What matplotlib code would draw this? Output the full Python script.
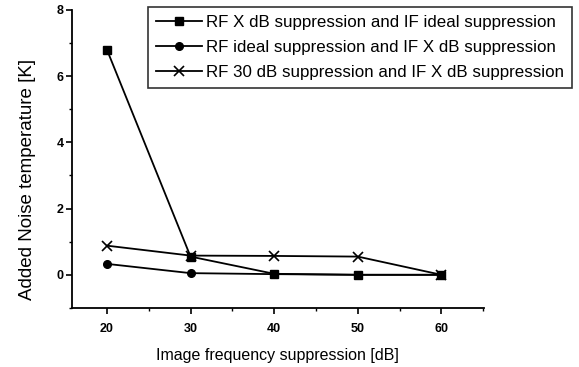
import matplotlib
matplotlib.use("Agg")
import matplotlib.pyplot as plt
from matplotlib.ticker import MultipleLocator

plt.rcParams['font.family'] = ['Liberation Sans', 'DejaVu Sans']

x = [20, 30, 40, 50, 60]
rf_x_if_ideal = [6.8, 0.55, 0.03, 0.0, 0.0]
rf_ideal_if_x = [0.33, 0.05, 0.02, 0.0, 0.0]
rf30_if_x = [0.88, 0.58, 0.57, 0.55, 0.0]
labels = ["RF X dB suppression and IF ideal suppression",
          "RF ideal suppression and IF X dB suppression",
          "RF 30 dB suppression and IF X dB suppression"]

fig = plt.figure(figsize=(5.79, 3.67), dpi=100)
ax = fig.add_axes([0.124, 0.161, 0.712, 0.812])
ax.plot(x, rf_x_if_ideal, color='black', lw=1.3, marker='s', ms=5.5, label=labels[0])
ax.plot(x, rf_ideal_if_x, color='black', lw=1.3, marker='o', ms=5.5, label=labels[1])
ax.plot(x, rf30_if_x, color='black', lw=1.3, marker='x', ms=7, mew=1.2, label=labels[2])

ax.set_xlim(15.8, 65.1)
ax.set_ylim(-1, 8)
ax.xaxis.set_major_locator(MultipleLocator(10))
ax.xaxis.set_minor_locator(MultipleLocator(5))
ax.yaxis.set_major_locator(MultipleLocator(2))
ax.yaxis.set_minor_locator(MultipleLocator(1))
for s in ['top', 'right']:
    ax.spines[s].set_visible(False)
for s in ['left', 'bottom']:
    ax.spines[s].set_linewidth(1.3)
ax.tick_params(which='major', length=4, width=1.2, labelsize=9)
ax.tick_params(which='minor', length=2.5, width=1.0)
ax.tick_params(axis='x', which='major', pad=7)
ax.tick_params(axis='y', which='major', pad=2)
for t in ax.get_xticklabels() + ax.get_yticklabels():
    t.set_fontweight('bold')
ax.set_xlabel("Image frequency suppression [dB]", fontsize=11.5, labelpad=9)
ax.set_ylabel("Added Noise temperature [K]", fontsize=13.5)
ax.yaxis.set_label_coords(-0.087, 0.43)

leg = ax.legend(loc='upper right', bbox_to_anchor=(0.988, 0.982), bbox_transform=fig.transFigure,
                fontsize=12.2, frameon=True, fancybox=False, edgecolor='black',
                handlelength=2.7, handletextpad=0.2, borderpad=0.5, labelspacing=0.58,
                borderaxespad=0)
leg.get_frame().set_linewidth(1.2)

fig.savefig("out.png", dpi=100)
